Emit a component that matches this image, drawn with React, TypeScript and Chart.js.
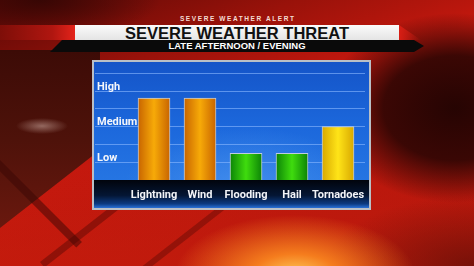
import React, { useEffect, useRef } from "react";
import { Chart, registerables } from "chart.js";

Chart.register(...registerables);

const categories = ["Lightning", "Wind", "Flooding", "Hail", "Tornadoes"];
const threatValues = [4.6, 4.6, 1.5, 1.5, 3.0];
const levelLabels = ["Low", "Medium", "High"];
const levelValues = [1, 3, 5];
const gridValues = [1, 2, 3, 4, 5, 6];
const barKinds = ["orange", "orange", "green", "green", "yellow"];

const kindStops: Record<string, [string, string]> = {
  orange: ["#c86400", "#f7aa08"],
  green: ["#0c8406", "#3fdc0e"],
  yellow: ["#d8a800", "#ffe418"],
};

const LABEL_FONT = 'Roboto, "Liberation Sans", sans-serif';

const stripPlugin = {
  id: "strip",
  beforeDraw(chart: any) {
    const { ctx, chartArea, width, height } = chart;
    const top = chartArea.bottom;
    const g = ctx.createLinearGradient(0, top, 0, height);
    g.addColorStop(0, "#01040c");
    g.addColorStop(0.55, "#041634");
    g.addColorStop(0.85, "#0c3a80");
    g.addColorStop(1, "#2a72d8");
    ctx.save();
    ctx.fillStyle = g;
    ctx.fillRect(0, top, width, height - top);
    ctx.restore();
  },
};

function ChartPanel() {
  const ref = useRef<HTMLCanvasElement | null>(null);
  useEffect(() => {
    if (!ref.current) return;
    const chart = new Chart(ref.current, {
      type: "bar",
      data: {
        datasets: [
          {
            data: threatValues.map((v, i) => ({ x: i, y: v })),
            barThickness: 32,
            borderWidth: 1,
            borderColor: "rgba(215,220,225,0.85)",
            backgroundColor: (c: any) => {
              const i = c.dataIndex;
              if (i === undefined) return "#f0a000";
              const stops = kindStops[barKinds[i]];
              const xs = c.chart.scales && c.chart.scales.x;
              if (!xs) return stops[1];
              const cx = xs.getPixelForValue(i);
              if (!isFinite(cx)) return stops[1];
              const g = c.chart.ctx.createLinearGradient(cx - 16, 0, cx + 16, 0);
              g.addColorStop(0, stops[0]);
              g.addColorStop(0.5, stops[1]);
              g.addColorStop(1, stops[0]);
              return g;
            },
          } as any,
        ],
      },
      options: {
        animation: false,
        responsive: false,
        events: [],
        layout: { padding: { left: 1, right: 4, top: 0, bottom: 0 } },
        plugins: { legend: { display: false }, tooltip: { enabled: false } },
        scales: {
          x: {
            type: "linear",
            offset: false,
            bounds: "data",
            min: -1.283,
            max: 4.587,
            afterBuildTicks: (s: any) => {
              s.ticks = categories.map((_, i) => ({ value: i }));
            },
            afterFit: (s: any) => {
              s.height = 28;
              s.paddingLeft = 0;
              s.paddingRight = 0;
            },
            grid: { display: false, drawTicks: false, offset: false },
            border: { display: false },
            ticks: {
              autoSkip: false,
              maxRotation: 0,
              padding: 9,
              color: "#f2f4f8",
              font: { family: LABEL_FONT, size: 11, weight: "bold" },
              callback: (v: any) => categories[v] ?? "",
            },
          },
          y: {
            type: "linear",
            min: 0,
            max: 6.63,
            afterBuildTicks: (s: any) => {
              s.ticks = gridValues.map((v) => ({ value: v }));
            },
            afterFit: (s: any) => {
              s.width = 0;
              s.paddingTop = 0;
              s.paddingBottom = 0;
            },
            grid: { color: "rgba(140,185,255,0.6)", lineWidth: 1, drawTicks: false },
            border: { display: false },
            ticks: {
              mirror: true,
              padding: 2,
              labelOffset: -4,
              color: "#f4f6fa",
              font: { family: LABEL_FONT, size: 11, weight: "bold" },
              callback: (v: any) => {
                const k = levelValues.indexOf(v);
                return k >= 0 ? levelLabels[k] : "";
              },
            },
          },
        },
      } as any,
      plugins: [stripPlugin],
    });
    return () => chart.destroy();
  }, []);
  return <canvas ref={ref} width={275} height={146} style={{ position: "absolute", left: 0, top: 0, width: 275, height: 146 }} />;
}

const abs = (o: any) => ({ position: "absolute" as const, ...o });

export default function App() {
  const base = [
    "radial-gradient(ellipse 120px 40px at 40px 0px, rgba(50,6,4,0.9) 0%, rgba(50,6,4,0) 100%)",
    "linear-gradient(180deg, rgba(0,0,0,0) 60%, rgba(200,30,12,0.5) 100%)",
    "linear-gradient(160deg, #5a0906 0%, #9a120a 25%, #c4180e 45%, #b0160c 100%)",
  ].join(", ");
  return (
    <div style={{ position: "absolute", left: 0, top: 0, width: 474, height: 266, overflow: "hidden", background: base, fontFamily: '"Liberation Sans", Arial, sans-serif' }}>
      {/* left smoky dark region */}
      <div style={abs({ left: 0, top: 50, width: 100, height: 180, clipPath: "polygon(0 0, 100px 0, 100px 100px, 0 178px)", background: "radial-gradient(ellipse 26px 8px at 42px 76px, rgba(220,190,180,0.5) 0%, rgba(220,190,180,0) 100%), linear-gradient(180deg, #3c0b06 0%, #4e120a 50%, #6a180e 100%)" })} />
      {/* left dark diagonal stripe */}
      <div style={abs({ left: -10, top: 150, width: 130, height: 8, background: "rgba(55,6,3,0.5)", transform: "rotate(45deg)", transformOrigin: "0 0" })} />
      {/* bottom diagonal bands */}
      <div style={abs({ left: 40, top: 262, width: 160, height: 7, background: "rgba(70,6,3,0.4)", transform: "rotate(-38deg)", transformOrigin: "0 0" })} />
      <div style={abs({ left: 140, top: 268, width: 150, height: 6, background: "rgba(70,6,3,0.35)", transform: "rotate(-38deg)", transformOrigin: "0 0" })} />
      {/* right dark region */}
      <div style={abs({ left: 0, top: 0, width: 474, height: 266, background: "radial-gradient(ellipse 130px 95px at 455px 108px, rgba(30,3,2,0.95) 0%, rgba(40,5,3,0.88) 55%, rgba(60,8,4,0) 100%), radial-gradient(ellipse 150px 70px at 474px 266px, rgba(95,14,7,0.75) 0%, rgba(95,14,7,0) 100%)" })} />
      {/* orange glow */}
      <div style={abs({ left: 0, top: 0, width: 474, height: 266, background: "radial-gradient(ellipse 120px 60px at 295px 275px, rgba(255,205,90,1) 0%, rgba(248,130,30,0.95) 35%, rgba(215,55,12,0) 100%)" })} />

      <div style={abs({ left: 0, top: 12, width: 474, height: 13, lineHeight: "13px", textAlign: "center", color: "#f5dcd4", fontSize: 6.5, fontWeight: "bold", letterSpacing: 1.6, paddingLeft: 1.6, boxSizing: "border-box" })}>
        SEVERE WEATHER ALERT
      </div>
      <div style={abs({ left: 0, top: 25, width: 75, height: 15, background: "linear-gradient(90deg, #7e0e08 0%, #b01610 70%, #e4231a 100%)" })} />
      <div style={abs({ left: 399, top: 25, width: 22, height: 15, background: "linear-gradient(90deg, #d81e14, rgba(200,24,14,0))", clipPath: "polygon(0 0, 100% 100%, 0 100%)" })} />
      <div style={abs({ left: 50, top: 40, width: 374, height: 12, background: "#0a0a0a", clipPath: "polygon(12px 0, 364px 0, 374px 6px, 364px 12px, 0 12px)" })} />
      <div style={abs({ left: 75, top: 25, width: 324, height: 15, background: "linear-gradient(180deg, #fbfbfb, #e4e4e4)" })} />
      <div style={abs({ left: 0, top: 25, width: 474, height: 15, lineHeight: "16px", textAlign: "center", color: "#111", fontSize: 16.5, fontWeight: "bold" })}>
        SEVERE WEATHER THREAT
      </div>
      <div style={abs({ left: 0, top: 40, width: 474, height: 12, lineHeight: "12px", textAlign: "center", color: "#fff", fontSize: 9.5, fontWeight: "bold" })}>
        LATE AFTERNOON / EVENING
      </div>
      <div style={abs({ left: 92, top: 60, width: 279, height: 150, boxSizing: "border-box", border: "2px solid #b9bfc6", background: "radial-gradient(ellipse 120px 60px at 150px 125px, rgba(90,160,245,0.55) 0%, rgba(90,160,245,0) 100%), linear-gradient(180deg, #1454c8 0%, #1c68dc 45%, #2a7ce6 100%)" })}>
        <ChartPanel />
      </div>
    </div>
  );
}
